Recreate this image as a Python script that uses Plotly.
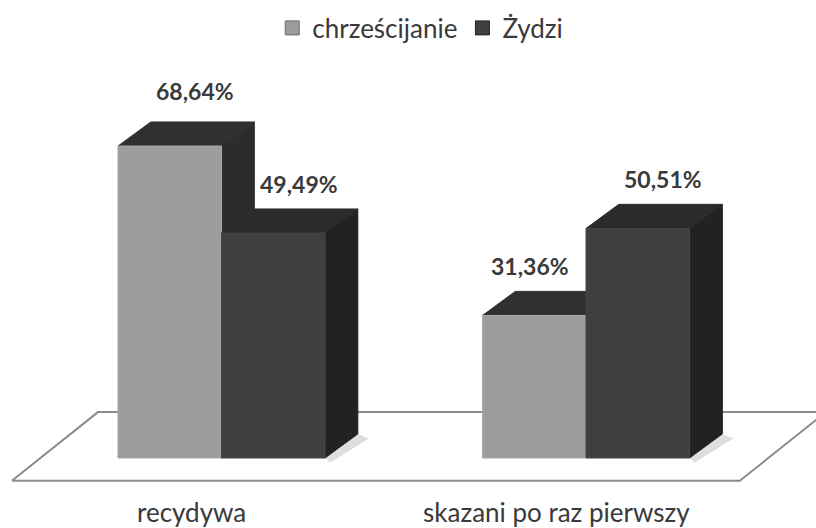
import plotly.graph_objects as go

# ---------------- data ----------------
categories = ["recydywa", "skazani po raz pierwszy"]
series_names = ["chrześcijanie", "Żydzi"]
values_chrzescijanie = [68.64, 31.36]
values_zydzi = [49.49, 50.51]
labels_chrzescijanie = ["68,64%", "31,36%"]
labels_zydzi = ["49,49%", "50,51%"]

series_values = [values_chrzescijanie, values_zydzi]
series_labels = [labels_chrzescijanie, labels_zydzi]

# ---------------- style / geometry ----------------
FRONT = ["#9c9c9c", "#3f3f3f"]
TOP = ["#303030", "#2b2b2b"]
SIDE = ["#2c2c2c", "#222222"]
EDGE = ["#a8a8a8", "#474747"]
BAR_W = 0.284          # bar width in category units
DEPTH_X = 0.09         # 3-D depth offset (category units)
DEPTH_Y = 5.3          # 3-D depth offset (value units)
LABEL_DY = 10.8        # label height above bar top (value units)
# nudges indexed [series][category]
LABEL_DX = [[0.07, -0.012], [0.07, 0.07]]
LABEL_EXTRA_DY = [[1.2, 0.0], [0.0, 0.0]]
CAT_LABEL_DX = -0.082
CAT_LABEL_Y = -11.9
FLOOR_FRONT_Y = -5.0
FLOOR_BACK_Y = 10.1
FLOOR_LEFT = -0.575
FLOOR_RIGHT = 1.422
FLOOR_SKEW = 0.236
FONT = "Lato, 'Open Sans', sans-serif"
TEXT_COLOR = "#3a3a3a"

fig = go.Figure()

# legend entries
for s, name in enumerate(series_names):
    fig.add_trace(go.Scatter(
        x=[None], y=[None], mode="markers", name=name,
        marker=dict(symbol="square", size=14, color=FRONT[s],
                    line=dict(color="#222222" if s else "#6a6a6a", width=1)),
        showlegend=True, hoverinfo="skip"))

# floor
fx = [FLOOR_LEFT, FLOOR_RIGHT, FLOOR_RIGHT + FLOOR_SKEW, FLOOR_LEFT + FLOOR_SKEW, FLOOR_LEFT]
fy = [FLOOR_FRONT_Y, FLOOR_FRONT_Y, FLOOR_BACK_Y, FLOOR_BACK_Y, FLOOR_FRONT_Y]
fig.add_trace(go.Scatter(x=fx, y=fy, mode="lines", fill="toself", fillcolor="white",
                         line=dict(color="#8c8c8c", width=2), showlegend=False,
                         hoverinfo="skip"))


def poly(xs, ys, color, edge=None):
    fig.add_trace(go.Scatter(
        x=xs + [xs[0]], y=ys + [ys[0]], mode="lines", fill="toself",
        fillcolor=color, line=dict(color=edge or color, width=1),
        showlegend=False, hoverinfo="skip"))


# shadows then bars (back to front, left to right)
for c in range(len(categories)):
    xr = c + BAR_W
    poly([xr, xr + DEPTH_X, xr + DEPTH_X + 0.03, xr + 0.015],
         [0, DEPTH_Y, DEPTH_Y - 1.0, -1.0], "rgba(0,0,0,0.13)", "rgba(0,0,0,0)")
    for s in range(len(series_names)):
        v = series_values[s][c]
        x0 = c + (s - 1) * BAR_W
        x1 = x0 + BAR_W
        poly([x1, x1 + DEPTH_X, x1 + DEPTH_X, x1], [0, DEPTH_Y, v + DEPTH_Y, v], SIDE[s])
        poly([x0, x1, x1 + DEPTH_X, x0 + DEPTH_X], [v, v, v + DEPTH_Y, v + DEPTH_Y], TOP[s])
        poly([x0, x1, x1, x0], [0, 0, v, v], FRONT[s], EDGE[s])

annotations = []
for c in range(len(categories)):
    for s in range(len(series_names)):
        v = series_values[s][c]
        xc = c + (s - 0.5) * BAR_W + LABEL_DX[s][c]
        annotations.append(dict(
            x=xc, y=v + LABEL_DY + LABEL_EXTRA_DY[s][c], xref="x", yref="y",
            text="<b>" + series_labels[s][c] + "</b>", showarrow=False,
            font=dict(family=FONT, size=23, color=TEXT_COLOR)))
    annotations.append(dict(
        x=c + CAT_LABEL_DX, y=CAT_LABEL_Y, xref="x", yref="y",
        text=categories[c], showarrow=False,
        font=dict(family=FONT, size=26, color=TEXT_COLOR)))

fig.update_layout(
    width=816, height=528,
    margin=dict(l=0, r=0, t=0, b=0),
    paper_bgcolor="white", plot_bgcolor="white",
    xaxis=dict(range=[-0.6077, 1.6310], visible=False, fixedrange=True),
    yaxis=dict(range=[-15.4, 100.77], visible=False, fixedrange=True),
    legend=dict(orientation="h", x=0.515, xanchor="center", y=0.947, yanchor="middle",
                font=dict(family=FONT, size=26, color=TEXT_COLOR),
                itemwidth=30, bgcolor="rgba(0,0,0,0)"),
    annotations=annotations,
    showlegend=True,
)

fig.write_html("out.html",
               config={"displayModeBar": False},
               post_script="document.body.style.margin='0px';"
                           "document.body.style.overflow='hidden';")
